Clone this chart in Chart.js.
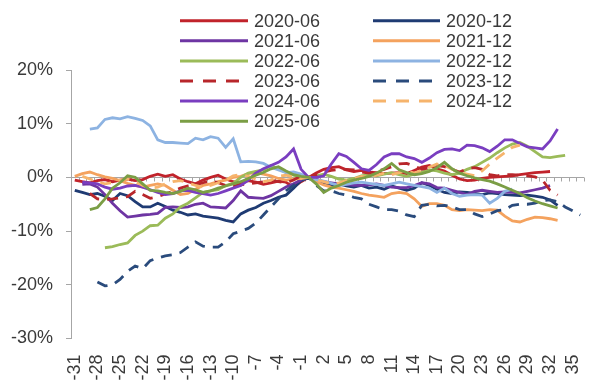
<!DOCTYPE html>
<html>
<head>
<meta charset="utf-8">
<script src="https://cdn.jsdelivr.net/npm/chart.js@4/dist/chart.umd.min.js"></script>
<style>
  html, body { margin: 0; padding: 0; background: #ffffff; }
  #wrap { width: 591px; height: 381px; position: relative; }
</style>
</head>
<body>
<div id="wrap"><canvas id="c" width="591" height="381"></canvas></div>
<script>
// ---- categories (x) ----
const categories = [-31,-30,-29,-28,-27,-26,-25,-24,-23,-22,-21,-20,-19,-18,-17,-16,-15,-14,-13,-12,
  -11,-10,-9,-8,-7,-6,-5,-4,-3,-2,-1,0,1,2,3,4,5,6,7,8,9,10,11,12,13,14,15,16,17,18,19,20,21,22,23,24,
  25,26,27,28,29,30,31,32,33,34,35,36];
// ---- x tick labels shown ----
const tickLabels = [-31,-28,-25,-22,-19,-16,-13,-10,-7,-4,-1,2,5,8,11,14,17,20,23,26,29,32,35];
// ---- y ticks (%) ----
const yTicks = [-30,-20,-10,0,10,20];

// ---- series values (%), one per category, null = no data ----
const s2020_06 = [-0.5,-0.8,-1.0,-0.6,-0.4,-0.8,-0.5,-0.3,-0.6,-0.4,
  0.2,0.6,0.2,0.5,-0.3,-0.8,-1.2,-0.5,0.0,0.4,
  -0.3,-0.8,-1.0,-0.6,-0.9,-1.3,-1.0,-0.7,-0.9,-1.8,
  -0.8,0,0.8,1.5,1.8,2.0,1.4,1.1,1.3,1.0,
  0.9,0.7,0.8,0.9,0.7,1.3,1.9,2.2,1.6,1.2,
  0.4,-0.3,-0.6,-0.5,-0.2,0.0,0.1,0.2,0.3,0.5,
  0.7,0.9,1.0,1.1,null,null,null,null];
const s2020_12 = [-2.4,-2.8,-3.2,-3.0,-3.5,-4.3,-3.0,-3.4,-4.5,-5.5,
  -5.5,-4.8,-5.4,-6.1,-6.5,-7.0,-6.8,-7.2,-7.4,-7.6,
  -8.0,-8.3,-6.8,-6.1,-5.6,-4.8,-4.3,-3.7,-3.3,-2.0,
  -0.6,0,-0.5,-1.0,-1.4,-1.2,-1.6,-1.8,-1.5,-2.0,
  -1.8,-2.2,-1.6,-2.0,-2.4,-2.0,-1.0,-1.5,-2.2,-2.8,
  -3.0,-2.7,-2.8,-3.0,-3.2,-2.9,-3.0,-3.2,-3.3,-3.4,
  -3.3,-3.5,-3.7,-4.2,-5.2,null,null,null];
const s2021_06 = [null,-1.3,-1.2,-1.8,-3.2,-4.8,-6.2,-7.4,-7.2,-7.0,
  -6.9,-6.7,-5.6,-5.5,-5.6,-5.5,-5.0,-4.8,-5.5,-5.6,
  -5.7,-4.3,-2.5,-3.7,-3.8,-3.9,-3.4,-2.6,-1.8,-1.2,
  -0.5,0,-0.3,-0.8,-1.0,-1.2,-1.3,-1.5,-1.5,-1.4,
  -1.2,-1.5,-1.8,-1.9,-1.9,-1.5,-1.0,-1.2,-1.9,-2.0,
  -2.4,-2.8,-3.2,-2.6,-2.4,-2.6,-2.8,-2.7,-2.8,-2.9,
  -2.6,-2.3,-2.0,-1.5,null,null,null,null];
const s2021_12 = [0.2,0.7,1.0,0.5,0.1,-0.2,-0.6,-1.1,-1.5,-1.8,
  -1.5,-1.2,-1.5,-2.4,-3.2,-3.0,-2.2,-1.5,-1.2,-0.8,
  -0.5,0.0,0.2,0.7,0.9,0.6,0.3,-0.2,-0.5,-0.3,
  -0.2,0,-0.8,-1.4,-1.8,-2.0,-2.3,-2.6,-3.0,-3.3,
  -3.5,-3.7,-3.0,-2.8,-3.0,-4.0,-5.4,-4.9,-4.9,-5.2,
  -6.0,-6.2,-6.0,-6.1,-6.2,-6.0,-6.1,-7.2,-8.1,-8.3,
  -7.8,-7.4,-7.5,-7.7,-8.0,null,null,null];
const s2022_06 = [null,null,null,null,-13.1,-12.9,-12.5,-12.2,-10.8,-10.0,
  -9.0,-8.9,-7.6,-6.8,-5.5,-4.8,-3.8,-2.8,-2.5,-2.3,
  -1.5,-1.1,0.0,0.8,1.1,1.4,2.2,1.6,0.9,0.4,
  0.1,0,0.3,0.6,0.2,-0.3,-0.5,-0.2,0.3,0.5,
  0.3,0.6,0.9,0.5,0.2,0.6,1.0,1.4,1.2,0.8,
  0.5,0.8,1.5,2.0,2.8,3.6,4.6,5.5,6.2,6.5,
  5.8,4.8,3.8,3.7,3.9,4.1,null,null];
const s2022_12 = [null,null,9.0,9.2,10.8,11.1,10.9,11.3,11.0,10.6,
  9.6,7.0,6.5,6.5,6.4,6.3,7.3,7.0,7.6,7.3,
  5.6,7.2,2.9,3.0,2.9,2.6,1.9,1.4,0.9,1.0,
  0.6,0,-0.4,-0.7,-1.1,-1.5,-1.3,-1.0,-0.9,-1.1,
  -1.3,-1.5,-1.2,-0.9,-1.2,-1.5,-1.7,-2.0,-2.8,-2.0,
  -3.0,-3.5,-3.3,-3.2,-3.3,-4.8,-3.9,-2.6,-2.2,null,
  null,null,null,null,null,null,null,null];
const s2023_06 = [null,null,-3.0,-4.0,-4.1,-4.0,-3.8,-3.6,-2.6,-3.2,
  -3.9,-3.6,-3.1,-2.6,-2.0,-1.6,-1.4,-1.0,-0.6,-1.0,
  -1.5,-1.6,-1.4,-1.2,-1.0,-0.8,-0.5,-0.8,-1.0,-0.5,
  0.3,0,0.5,1.0,1.3,1.5,1.5,1.4,1.0,0.8,
  1.2,1.5,2.0,2.5,2.6,2.1,1.5,1.8,2.2,2.0,
  1.5,1.0,1.6,1.8,1.5,0.5,0.3,0.5,0.5,0.4,
  0.3,0.1,-0.5,-2.4,-3.3,null,null,null];
const s2023_12 = [null,null,null,-19.5,-20.2,-20.0,-19.0,-17.5,-16.5,-17.0,
  -15.5,-15.0,-14.6,-14.4,-14.0,-13.0,-12.0,-12.8,-13.0,-13.0,
  -12.0,-10.5,-10.0,-9.5,-8.5,-7.0,-5.5,-4.0,-2.5,-1.5,
  -0.5,0,-1.5,-2.5,-2.5,-3.0,-3.3,-3.7,-4.0,-5.0,
  -5.5,-6.0,-6.0,-6.3,-7.0,-7.3,-5.2,-5.0,-5.3,-5.2,
  -5.5,-6.0,-6.0,-6.8,-7.3,-6.8,-6.2,-6.0,-5.2,-5.0,
  -5.0,-4.8,-4.3,-4.2,-4.5,-5.5,-6.2,-7.0];
const s2024_06 = [null,-0.9,-1.0,-1.2,-1.8,-2.2,-2.0,-1.6,-1.5,-1.8,
  -2.3,-2.8,-3.2,-3.0,-2.5,-2.4,-2.8,-3.0,-3.3,-3.0,
  -2.5,-2.0,-1.5,-0.5,0.8,1.6,2.2,2.8,3.8,5.3,
  1.5,0,0.0,0.3,2.5,4.4,3.9,2.8,1.6,1.3,
  2.4,3.8,4.4,4.4,3.8,3.5,2.8,3.6,4.6,5.2,
  5.3,5.0,6.0,5.9,5.5,4.8,5.8,7.0,7.0,6.3,
  5.7,5.5,5.3,6.8,9.0,null,null,null];
const s2024_12 = [null,0.2,-0.3,-0.8,-1.2,-1.0,-0.5,-0.3,-0.8,-1.5,
  -2.0,-1.8,-1.2,-0.8,-0.6,-1.0,-1.5,-1.8,-1.5,-1.0,
  -0.5,0.3,0.5,0.2,-0.3,-0.8,-0.5,0.2,0.4,0.1,
  -0.2,0,-0.5,-0.8,-1.2,-1.0,-0.6,-0.3,0.2,0.0,
  0.4,0.8,0.5,0.9,1.2,0.8,1.3,1.9,2.5,2.2,
  1.5,0.9,0.6,0.3,1.2,2.5,3.6,4.6,5.6,6.0,
  null,null,null,null,null,null,null,null];
const s2025_06 = [null,null,-6.0,-5.6,-4.0,-2.0,-1.0,0.3,0.0,-1.2,
  -2.4,-2.5,-2.8,-3.0,-2.6,-2.0,-2.3,-2.8,-2.5,-2.0,
  -1.6,-1.2,-0.8,-0.2,0.4,0.9,1.6,2.0,1.2,0.5,
  0.2,0,-1.2,-2.8,-2.0,-1.5,-0.9,-0.5,-0.2,0.2,
  0.8,1.6,2.6,1.4,0.9,0.5,0.7,1.1,1.8,2.8,
  1.6,0.8,0.3,-0.1,-0.4,-0.7,-1.2,-1.8,-2.4,-3.0,
  -3.8,-4.4,-4.9,-5.3,-5.7,null,null,null];

// ---- series names and styles ----
const seriesNames = ['2020-06','2020-12','2021-06','2021-12','2022-06','2022-12','2023-06','2023-12','2024-06','2024-12','2025-06'];
const seriesData = [s2020_06,s2020_12,s2021_06,s2021_12,s2022_06,s2022_12,s2023_06,s2023_12,s2024_06,s2024_12,s2025_06];
const seriesColors = ['#C1232B','#1F3B73','#6E35A3','#F4A25E','#9BBB59','#8DB3E2','#B8262B','#2A4B7C','#7A3EC0','#F6B46C','#7B9E45'];
const seriesDashed = [false,false,false,false,false,false,true,true,false,true,false];

const FONT = "'Liberation Sans', Arial, sans-serif";
const TEXT = '#3a3a3a';
const AXIS = '#a6a6a6';

const datasets = seriesNames.map((name, i) => ({
  label: name,
  data: seriesData[i],
  borderColor: seriesColors[i],
  backgroundColor: seriesColors[i],
  borderWidth: 2.8,
  borderDash: seriesDashed[i] ? [11, 8] : [],
  pointRadius: 0,
  pointHoverRadius: 0,
  tension: 0,
  fill: false,
  spanGaps: false,
  order: seriesNames.length - i
}));

// zero line with category tick marks (x axis crossing at 0)
const zeroLine = {
  id: 'zeroLine',
  beforeDatasetsDraw(chart) {
    const {ctx, chartArea, scales} = chart;
    const y = Math.round(scales.y.getPixelForValue(0)) + 0.5;
    ctx.save();
    ctx.strokeStyle = AXIS;
    ctx.lineWidth = 1;
    ctx.beginPath();
    ctx.moveTo(chartArea.left, y);
    ctx.lineTo(chartArea.right, y);
    const n = categories.length;
    const w = (scales.x.getPixelForValue(1) - scales.x.getPixelForValue(0));
    for (let i = 0; i <= n; i++) {
      const x = Math.round(scales.x.getPixelForValue(0) - w / 2 + i * w) + 0.5;
      ctx.moveTo(x, y);
      ctx.lineTo(x, y + 4);
    }
    ctx.stroke();
    ctx.restore();
  }
};

// two-column legend placed inside the plot
const legend2col = {
  id: 'legend2col',
  afterDatasetsDraw(chart) {
    const {ctx} = chart;
    const colLine = [[180, 248], [373, 440]];
    const colText = [254, 446];
    ctx.save();
    ctx.font = '18px ' + FONT;
    ctx.textBaseline = 'middle';
    ctx.textAlign = 'left';
    chart.data.datasets.forEach((ds, i) => {
      const col = i % 2, row = Math.floor(i / 2);
      const y = 20.7 + row * 20.1;
      ctx.strokeStyle = ds.borderColor;
      ctx.lineWidth = 3;
      ctx.setLineDash(ds.borderDash.length ? [13, 10] : []);
      ctx.beginPath();
      ctx.moveTo(colLine[col][0], y);
      ctx.lineTo(colLine[col][1], y);
      ctx.stroke();
      ctx.setLineDash([]);
      ctx.fillStyle = TEXT;
      ctx.fillText(ds.label, colText[col], y + 1);
    });
    ctx.restore();
  }
};

new Chart(document.getElementById('c'), {
  type: 'line',
  data: { labels: categories.map(String), datasets },
  options: {
    responsive: false,
    animation: false,
    events: [],
    layout: { padding: { top: 70, right: 7, left: 0, bottom: 0 } },
    plugins: { legend: { display: false }, tooltip: { enabled: false } },
    scales: {
      x: {
        type: 'category',
        offset: true,
        grid: { display: false, offset: true },
        border: { display: false },
        ticks: {
          autoSkip: false,
          minRotation: 90,
          maxRotation: 90,
          padding: 8,
          color: TEXT,
          font: { family: FONT, size: 18 },
          callback: function(v, idx) {
            const c = categories[idx];
            return tickLabels.includes(c) ? String(c) : '';
          }
        },
        afterFit(scale) {
          scale.height = 42.5;
          scale.paddingLeft = 0;
          scale.paddingRight = 0;
        }
      },
      y: {
        min: yTicks[0],
        max: yTicks[yTicks.length - 1],
        afterBuildTicks(scale) { scale.ticks = yTicks.map(v => ({ value: v })); },
        grid: { display: true, drawOnChartArea: false, drawTicks: true, tickLength: 5, color: AXIS },
        border: { display: true, color: AXIS, width: 1 },
        ticks: {
          padding: 13,
          color: TEXT,
          font: { family: FONT, size: 18 },
          callback: v => v + '%'
        },
        afterFit(scale) {
          scale.width = 71;
          scale.paddingTop = 0;
          scale.paddingBottom = 0;
        }
      }
    }
  },
  plugins: [zeroLine, legend2col]
});
</script>
</body>
</html>
